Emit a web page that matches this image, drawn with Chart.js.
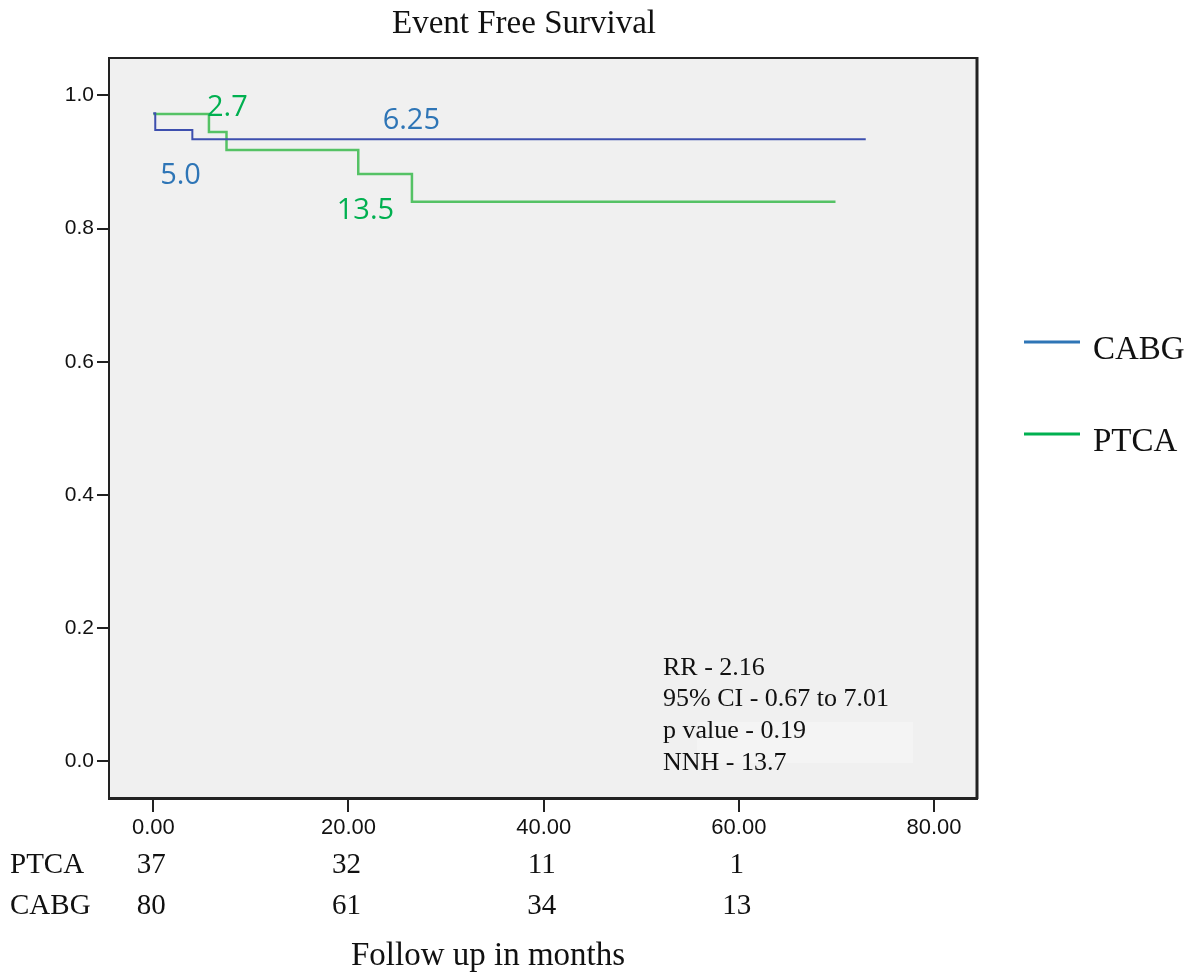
<!DOCTYPE html>
<html><head><meta charset="utf-8">
<script src="https://cdn.jsdelivr.net/npm/chart.js@4.4.0/dist/chart.umd.min.js"></script>
<style>html,body{margin:0;padding:0;background:#fff;}#wrap{width:1198px;height:977px;}</style>
</head><body><div id="wrap"><canvas id="c" width="1198" height="977"></canvas></div>
<script>
// ---- data ----
const cabgTimes = [0, 0.2, 4.0, 73.0];
const cabgSurv  = [0.973, 0.948, 0.934, 0.934];
const ptcaTimes = [0, 5.7, 7.5, 21.0, 26.5, 69.9];
const ptcaSurv  = [0.972, 0.945, 0.918, 0.882, 0.840, 0.840];
const xTicks = [0, 20, 40, 60, 80];
const yTicks = [0.0, 0.2, 0.4, 0.6, 0.8, 1.0];
const seriesNames = ['CABG', 'PTCA'];
const riskGroups = ['PTCA', 'CABG'];
const riskPTCA = [37, 32, 11, 1];
const riskCABG = [80, 61, 34, 13];
const curveLabels = ['2.7', '6.25', '5.0', '13.5'];
const statsLines = ['RR - 2.16', '95% CI - 0.67 to 7.01', 'p value - 0.19', 'NNH - 13.7'];
const titleText = 'Event Free Survival';
const xTitle = 'Follow up in months';

// ---- drawing ----
const SERIF = '"Liberation Serif", "Times New Roman", serif';
const SANS = '"Liberation Sans", Arial, sans-serif';
const LABEL_SANS = '"Open Sans", "Noto Sans", sans-serif';
const BLUE_LINE = '#3d4fae', GREEN_LINE = '#55c265';
const BLUE_TXT = '#2e75b6', GREEN_TXT = '#00b050';

const deco = {
  id: 'deco',
  beforeDraw(chart) {
    const c = chart.ctx, a = chart.chartArea;
    c.save();
    c.fillStyle = '#ffffff';
    c.fillRect(0, 0, chart.width, chart.height);
    c.fillStyle = '#f0f0f0';
    c.fillRect(a.left, a.top, a.right - a.left, a.bottom - a.top);
    // faint box behind stats
    c.fillStyle = '#f4f4f4';
    c.fillRect(697, 722, 216, 41);
    c.restore();
  },
  afterDraw(chart) {
    const c = chart.ctx, a = chart.chartArea;
    const xs = chart.scales.x, ys = chart.scales.y;
    c.save();
    // frame
    c.strokeStyle = '#222';
    c.lineWidth = 2;
    c.beginPath();
    c.moveTo(a.left, a.top); c.lineTo(a.right, a.top);
    c.stroke();
    c.lineWidth = 3;
    c.beginPath();
    c.moveTo(a.right, a.top - 1); c.lineTo(a.right, a.bottom + 1);
    c.stroke();

    // title
    c.fillStyle = '#111';
    c.textBaseline = 'alphabetic';
    c.textAlign = 'center';
    c.font = '33px ' + SERIF;
    c.fillText(titleText, 524, 33);

    // curve labels
    c.textAlign = 'left';
    c.font = '29px ' + LABEL_SANS;
    const lab = [
      {t: 5.5, s: 0.969, col: GREEN_TXT},
      {t: 23.5, s: 0.949, col: BLUE_TXT},
      {t: 0.7, s: 0.867, col: BLUE_TXT},
      {t: 18.8, s: 0.815, col: GREEN_TXT}
    ];
    curveLabels.forEach((txt, i) => {
      c.fillStyle = lab[i].col;
      c.fillText(txt, xs.getPixelForValue(lab[i].t), ys.getPixelForValue(lab[i].s));
    });

    // stats
    c.fillStyle = '#111';
    c.font = '26px ' + SERIF;
    const sb = [675, 706, 738, 770];
    statsLines.forEach((t, i) => c.fillText(t, 663, sb[i]));

    // legend
    const legCols = [BLUE_TXT, GREEN_TXT];
    const legY = [342, 434];
    seriesNames.forEach((n, i) => {
      c.strokeStyle = legCols[i];
      c.lineWidth = 3;
      c.beginPath();
      c.moveTo(1024, legY[i]); c.lineTo(1080, legY[i]);
      c.stroke();
      c.fillStyle = '#111';
      c.font = '33px ' + SERIF;
      c.fillText(n, 1093, legY[i] + 17);
    });

    // risk table
    c.font = '29px ' + SERIF;
    const rows = [riskPTCA, riskCABG];
    const rowBase = [873, 914];
    riskGroups.forEach((g, r) => {
      c.textAlign = 'left';
      c.fillText(g, 10, rowBase[r]);
      c.textAlign = 'center';
      rows[r].forEach((v, i) => {
        c.fillText(String(v), xs.getPixelForValue(xTicks[i]) - 2, rowBase[r]);
      });
    });

    // x axis title
    c.textAlign = 'center';
    c.font = '33px ' + SERIF;
    c.fillText(xTitle, 488, 965);
    c.restore();
  }
};

const ctx = document.getElementById('c').getContext('2d');
new Chart(ctx, {
  type: 'line',
  data: {
    datasets: [
      {label: seriesNames[0], data: cabgTimes.map((t, i) => ({x: t, y: cabgSurv[i]})),
       borderColor: BLUE_LINE, borderWidth: 2, stepped: 'before', pointRadius: 0, fill: false},
      {label: seriesNames[1], data: ptcaTimes.map((t, i) => ({x: t, y: ptcaSurv[i]})),
       borderColor: GREEN_LINE, borderWidth: 2.5, stepped: 'before', pointRadius: 0, fill: false}
    ]
  },
  options: {
    responsive: false, animation: false, devicePixelRatio: 1,
    layout: {padding: {left: 0, top: 58, right: 1198 - 977, bottom: 977 - 798 - 50}},
    plugins: {legend: {display: false}, tooltip: {enabled: false}, title: {display: false}},
    scales: {
      x: {
        type: 'linear', min: -4.54, max: 84.4,
        afterBuildTicks: s => { s.ticks = xTicks.map(v => ({value: v})); },
        afterFit: s => { s.height = 50; },
        ticks: {font: {family: SANS, size: 22}, color: '#111', padding: 3,
                callback: v => Number(v).toFixed(2), maxRotation: 0, autoSkip: false},
        grid: {drawOnChartArea: false, drawTicks: true, tickLength: 14, color: '#222', lineWidth: 2},
        border: {display: true, color: '#222', width: 3}
      },
      y: {
        type: 'linear', min: -0.055, max: 1.056,
        afterBuildTicks: s => { s.ticks = yTicks.map(v => ({value: v})); },
        afterFit: s => { s.width = 109; },
        ticks: {font: {family: SANS, size: 21}, color: '#111', padding: 3,
                callback: v => Number(v).toFixed(1), autoSkip: false},
        grid: {drawOnChartArea: false, drawTicks: true, tickLength: 12, color: '#222', lineWidth: 2},
        border: {display: true, color: '#222', width: 2}
      }
    }
  },
  plugins: [deco]
});
</script>
</body></html>
